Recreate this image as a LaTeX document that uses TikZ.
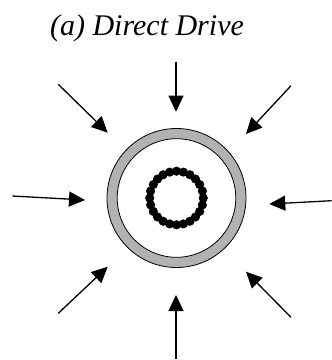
\documentclass[tikz,border=0pt]{standalone}
\usepackage{fontspec}
\setmainfont{Liberation Serif}
\usetikzlibrary{arrows.meta,calc}
\begin{document}
\begin{tikzpicture}[x=1pt,y=-1pt,
  force/.style={line width=1.3pt,-{Triangle[length=16pt,width=15pt]}},
  ringline/.style={line width=0.8pt},
  bead/.style={fill=black,draw=none}]
\useasboundingbox (0,0) rectangle (332,360);
\node[anchor=base,font=\fontsize{30}{32}\selectfont\itshape,inner sep=0pt] (title) at (147,35) {(a) Direct Drive};
\coordinate (c) at (176.5,198);
% gray ring
\fill[gray!60!white,even odd rule] (c) circle[radius=69.5] (c) circle[radius=59.3];
\draw[ringline] (c) circle[radius=69.5];
\draw[ringline] (c) circle[radius=59.3];
% beads
\foreach \k in {0,...,23}{
  \fill[bead] ($(c)+({26.8*cos(15*\k)},{26.8*sin(15*\k)})$) circle[radius=4.6];
}
% arrows
\coordinate (s1) at (176,61.7);  \coordinate (t1) at (176,111.7);
\coordinate (s2) at (176,359);   \coordinate (t2) at (176,295);
\coordinate (s3) at (12.3,196);  \coordinate (t3) at (85,200);
\coordinate (s4) at (331.7,200.7); \coordinate (t4) at (269.3,204);
\coordinate (s5) at (58.3,84.3); \coordinate (t5) at (107.7,132.7);
\coordinate (s6) at (291,85.7);  \coordinate (t6) at (246,134);
\coordinate (s7) at (58.3,313.3); \coordinate (t7) at (107.7,266.7);
\coordinate (s8) at (291,317.3); \coordinate (t8) at (246,271.7);
\foreach \i in {1,...,8}{ \draw[force] (s\i) -- (t\i); }
\end{tikzpicture}
\end{document}
